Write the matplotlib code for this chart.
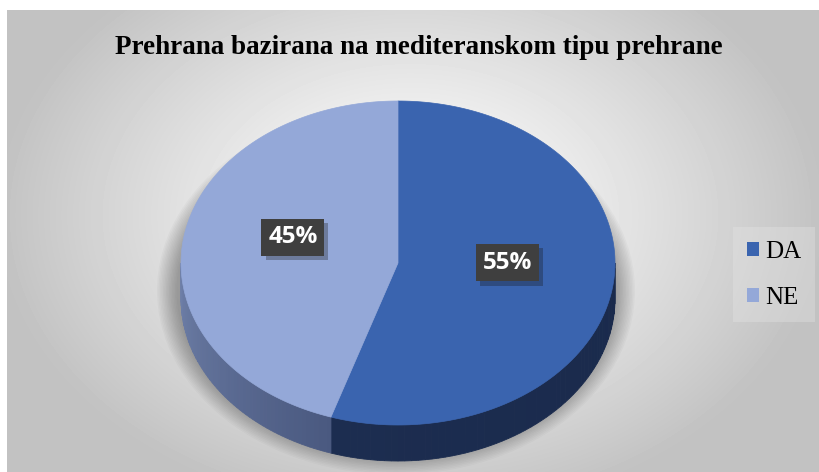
import numpy as np
import matplotlib.pyplot as plt
import matplotlib.patheffects as pe
from matplotlib.patches import Polygon, Ellipse, Patch
from matplotlib.colors import to_rgb

# Data
labels = ["DA", "NE"]
values = [55, 45]
colors = ["#3a64af", "#94a8d8"]
side_colors = [("#1a2a4c", "#1c2d50"), ("#4a5980", "#6e7fa8")]
title = "Prehrana bazirana na mediteranskom tipu prehrane"

W, H = 819, 472
fig = plt.figure(figsize=(W / 100, H / 100), dpi=100)
fig.patch.set_facecolor("white")
ax = fig.add_axes([0, 0, 1, 1])
ax.set_xlim(0, W)
ax.set_ylim(H, 0)
ax.axis("off")

# radial gradient background (chart area starts a bit inside the image)
x0, y0 = 7, 10
yy, xx = np.mgrid[y0:H, x0:W]
d = np.sqrt(((xx - 410) / 400.0) ** 2 + ((yy - 215) / 290.0) ** 2)
shade = np.clip(1.0 - 0.23 * d ** 1.2, 0.76, 1.0)
ax.imshow(shade, cmap="gray", vmin=0, vmax=1, extent=(x0, W, H, y0),
          interpolation="bilinear", zorder=0)

# pie geometry (pixels)
cx, cy, rx, ry, depth = 398, 263, 217, 162, 36

# soft shadow
for k in range(14):
    ax.add_patch(Ellipse((cx - 2, cy + depth * 0.6 + 6), 2 * rx + 44 - 3 * k,
                         2 * ry + 44 - 3 * k, color="black", alpha=0.022,
                         lw=0, zorder=1))

fracs = np.array(values) / np.sum(values)
bounds = np.concatenate([[0], np.cumsum(fracs)]) * 2 * np.pi


def ell(t, dy=0):
    return cx + rx * np.sin(t), cy - ry * np.cos(t) + dy


# side walls (front half only: pi/2 .. 3pi/2)
for i in range(len(values)):
    a, b = max(bounds[i], np.pi / 2), min(bounds[i + 1], 1.5 * np.pi)
    if a >= b:
        continue
    c1, c2 = np.array(to_rgb(side_colors[i][0])), np.array(to_rgb(side_colors[i][1]))
    n = 60
    ts = np.linspace(a, b, n + 1)
    for j in range(n):
        t = np.linspace(ts[j], ts[j + 1], 4)
        xs, ys = ell(t)
        xb, yb = ell(t[::-1], depth)
        f = j / (n - 1)
        col = c1 + (c2 - c1) * f
        ax.add_patch(Polygon(np.column_stack([np.r_[xs, xb], np.r_[ys, yb]]),
                             closed=True, fc=col, ec=col, lw=0.6, zorder=2))

# top faces
for i in range(len(values)):
    t = np.linspace(bounds[i], bounds[i + 1], 200)
    xs, ys = ell(t)
    pts = np.column_stack([np.r_[cx, xs], np.r_[cy, ys]])
    ax.add_patch(Polygon(pts, closed=True, fc=colors[i], ec=colors[i],
                         lw=0.5, zorder=3))

# data labels
for i in range(len(values)):
    mid = (bounds[i] + bounds[i + 1]) / 2
    lx, ly = cx + 0.5 * rx * np.sin(mid), cy - 0.5 * ry * np.cos(mid) - 13
    t = ax.text(lx + 2, ly, f"{values[i]}%", ha="center", va="center",
                fontsize=17.5, fontweight="bold", family="Open Sans",
                color="white", zorder=5,
                bbox=dict(boxstyle="square,pad=0.28", fc="#3f3f3f", ec="none"))
    t.get_bbox_patch().set_path_effects(
        [pe.SimplePatchShadow(offset=(3, -3), alpha=0.3), pe.Normal()])

ax.text(419, 47, title, ha="center", va="center", fontsize=19.5,
        fontweight="bold", family="Liberation Serif", color="black", zorder=5)

handles = [Patch(fc=c, ec="none") for c in colors]
leg = fig.legend(handles, labels, loc="center left",
                 bbox_to_anchor=(0.895, 0.418), borderaxespad=0,
                 frameon=True, fancybox=False, facecolor="#e6e6e6",
                 edgecolor="none", framealpha=0.35, borderpad=0.55,
                 handlelength=0.5, handleheight=0.5,
                 handletextpad=0.25, labelspacing=0.95,
                 prop={"family": "Liberation Serif", "size": 18})

fig.savefig("out.png", dpi=100)
